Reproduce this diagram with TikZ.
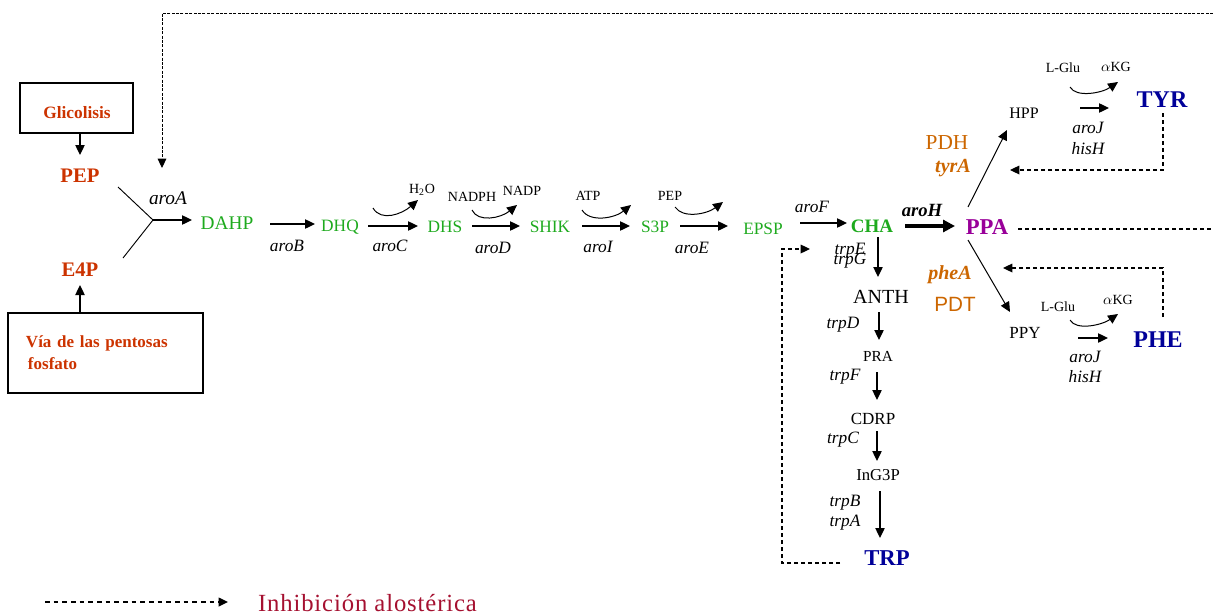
\documentclass[tikz,border=0pt]{standalone}
\usepackage{fontspec}
\setmainfont{Liberation Serif}
\setsansfont{Liberation Sans}
\usetikzlibrary{arrows.meta}
\definecolor{srcred}{RGB}{204,51,0}
\definecolor{metgreen}{RGB}{30,170,30}
\definecolor{ppapurple}{RGB}{153,0,153}
\definecolor{enzorange}{RGB}{204,102,0}
\definecolor{aablue}{RGB}{0,0,153}
\definecolor{legred}{RGB}{165,16,48}
\newcommand\fsz[1]{\fontsize{#1}{#1}\selectfont}
\begin{document}
\begin{tikzpicture}[x=0.75pt,y=-0.75pt,
  lbl/.style={inner sep=0pt, outer sep=0pt},
  metab/.style={lbl, text=metgreen, font=\fsz{13pt}},
  enz/.style={lbl, font=\itshape\fsz{13pt}},
  cofac/.style={lbl, font=\fsz{10.5pt}},
  inter/.style={lbl, font=\fsz{12.75pt}},
  srcmet/.style={lbl, text=srcred, font=\bfseries\fsz{15.5pt}},
  aa/.style={lbl, text=aablue, font=\bfseries\fsz{18pt}},
  orng/.style={lbl, text=enzorange},
  srcbox/.style={draw, line width=0.8pt},
  rxn/.style={-{Triangle[length=7.5pt,width=7pt]}, line width=0.95pt},
  cofarr/.style={-{Triangle[length=7.5pt,width=7pt]}, line width=0.75pt},
  slimline/.style={line width=0.7pt},
  inhib/.style={-{Triangle[length=7pt,width=6.5pt]}, line width=0.9pt, dash pattern=on 3pt off 2.25pt},
  inhibfine/.style={inhib, dash pattern=on 2.2pt off 1.1pt, line width=0.7pt}
]
\useasboundingbox (0,0) rectangle (1213,614);

% ---- sources
\node[srcbox, minimum width=84.75pt, minimum height=37.5pt] (glyc) at (76.5,108) {};
\node[lbl, text=srcred, font=\bfseries\fsz{13pt}] (glycT) at (77,113) {Glicolisis};
\node[srcmet] (PEP) at (80,176) {PEP};
\node[srcmet] (E4P) at (80,270) {E4P};
\node[srcbox, text=srcred, text width=119.25pt, inner xsep=13.5pt, inner ysep=0pt, minimum height=60pt, align=left, font=\bfseries\fontsize{12.75pt}{16.5pt}\selectfont] (ppp) at (105.5,353) {Vía de las pentosas\\\hspace*{1.5pt}fosfato};
\draw[rxn] ([shift={(3.5,0)}]glyc.south) -- ([shift={(0,-21)}]PEP.center);
\draw[rxn] ([shift={(-25.5,0)}]ppp.north) -- ([shift={(0,15)}]E4P.center);

\coordinate (J) at (153,220);
\draw[slimline] ([shift={(38,11)}]PEP.center) -- (J) -- ([shift={(43,-12)}]E4P.center);
\node[metab, font=\fsz{14.5pt}] (DAHP) at (227,223) {DAHP};
\draw[rxn] (J) -- ([shift={(-35,-3)}]DAHP.center);
\node[enz, font=\itshape\fsz{14.5pt}] (aroA) at (168,198) {aroA};

\coordinate (topR) at (1213,13);
\draw[inhibfine] (topR) -| ([shift={(-6,-30)}]aroA.center);

% ---- main chain
\node[metab] (DHQ) at (340,227) {DHQ};
\node[metab] (DHS) at (445,227) {DHS};
\node[metab] (SHIK) at (550,227) {SHIK};
\node[metab] (S3P) at (655,227) {S3P};
\node[metab] (EPSP) at (763,229) {EPSP};
\node[lbl, text=metgreen, font=\bfseries\fsz{14.25pt}] (CHA) at (872,226) {CHA};
\node[lbl, text=ppapurple, font=\bfseries\fsz{17pt}] (PPA) at (987,227) {PPA};

\draw[rxn] ([shift={(43,1)}]DAHP.center) -- ([shift={(-25,-3)}]DHQ.center);
\draw[rxn] ([shift={(28,-1)}]DHQ.center) -- ([shift={(-27,-1)}]DHS.center);
\draw[rxn] ([shift={(27,-1)}]DHS.center) -- ([shift={(-30,-1)}]SHIK.center);
\draw[rxn] ([shift={(32,-1)}]SHIK.center) -- ([shift={(-25,-1)}]S3P.center);
\draw[rxn] ([shift={(25,-1)}]S3P.center) -- ([shift={(-35,-3)}]EPSP.center);
\draw[rxn] ([shift={(37,-6)}]EPSP.center) -- ([shift={(-25,-3)}]CHA.center);
\draw[-{Triangle[length=9pt,width=9pt]}, line width=2.6pt] ([shift={(33,0)}]CHA.center) -- ([shift={(-32,-1)}]PPA.center);

\node[enz] (aroB) at (287,246) {aroB};
\node[enz] (aroC) at (390,246) {aroC};
\node[enz] (aroD) at (493,248) {aroD};
\node[enz] (aroI) at (598,247) {aroI};
\node[enz] (aroE) at (692,248) {aroE};
\node[enz] (aroF) at (812,207) {aroF};
\node[lbl, font=\bfseries\itshape\fsz{14pt}] (aroH) at (922,210) {aroH};

% ---- cofactors
\node[cofac] (H2O) at (422,190) {H\textsubscript{2}O};
\draw[cofarr] ([shift={(33,-19)}]DHQ.center) .. controls +(8,14) and +(-16,14) .. ([shift={(-4,10)}]H2O.center);
\node[cofac] (NADPH) at (472,197) {NADPH};
\node[cofac] (NADP) at (522,191) {NADP};
\draw[cofarr] ([shift={(0,13)}]NADPH.center) .. controls +(6,13) and +(-16,13) .. ([shift={(-5,14)}]NADP.center);
\node[cofac] (ATP) at (588,196) {ATP};
\draw[cofarr] ([shift={(-6,14)}]ATP.center) .. controls +(8,13) and +(-16,13) .. ([shift={(-24,-22)}]S3P.center);
\node[cofac] (PEPb) at (670,196) {PEP};
\draw[cofarr] ([shift={(5,11)}]PEPb.center) .. controls +(8,12) and +(-16,12) .. ([shift={(-40,-27)}]EPSP.center);

% ---- PPA branches
\node[inter, font=\fsz{12pt}] (HPP) at (1024,113) {HPP};
\node[inter] (PPY) at (1025,333) {PPY};
\draw[cofarr] ([shift={(-19,-20)}]PPA.center) -- ([shift={(-17,17)}]HPP.center);
\draw[cofarr] ([shift={(-19,13)}]PPA.center) -- ([shift={(-15,-21)}]PPY.center);
\node[orng, font=\fsz{16pt}] (PDH) at (947,143) {PDH};
\node[orng, font=\bfseries\itshape\fsz{15pt}] (tyrA) at (953,168) {tyrA};
\node[orng, font=\bfseries\itshape\fsz{15pt}] (pheA) at (950,275) {pheA};
\node[orng, font=\sffamily\fsz{15.5pt}] (PDT) at (955,304) {PDT};

% TYR
\node[aa] (TYR) at (1162,100) {TYR};
\node[cofac] (Glu1) at (1063,68) {L-Glu};
\node[cofac] (aKG1) at (1116,67) {$\alpha$KG};
\draw[cofarr] ([shift={(7,19)}]Glu1.center) .. controls +(6,11) and +(-16,11) .. ([shift={(2,15)}]aKG1.center);
\draw[rxn] ([shift={(56,-5)}]HPP.center) -- ([shift={(-53,8)}]TYR.center);
\node[enz] (aroJa) at (1088,128) {aroJ};
\node[enz] (hisHa) at (1088,149) {hisH};
\draw[inhib] ([shift={(1,13)}]TYR.center) |- ([shift={(23,-57)}]PPA.center);

% PHE
\node[aa] (PHE) at (1158,340) {PHE};
\node[cofac] (Glu2) at (1058,307) {L-Glu};
\node[cofac] (aKG2) at (1118,300) {$\alpha$KG};
\draw[cofarr] ([shift={(12,13)}]Glu2.center) .. controls +(6,11) and +(-16,11) .. ([shift={(0,14)}]aKG2.center);
\draw[rxn] ([shift={(53,5)}]PPY.center) -- ([shift={(-50,-2)}]PHE.center);
\node[enz] (aroJb) at (1085,357) {aroJ};
\node[enz] (hisHb) at (1085,377) {hisH};
\draw[inhib] ([shift={(5,-23)}]PHE.center) |- ([shift={(16,41)}]PPA.center);

\coordinate (ppaR) at (1213,229);
\draw[inhib, -] ([shift={(31,2)}]PPA.center) -- (ppaR);

% ---- TRP branch
\node[inter, font=\fsz{15pt}] (ANTH) at (881,297) {ANTH};
\node[inter, font=\fsz{11.5pt}] (PRA) at (878,356) {PRA};
\node[inter] (CDRP) at (873,419) {CDRP};
\node[inter, font=\fsz{12.5pt}] (InGP) at (878,475) {InG3P};
\node[aa, font=\bfseries\fsz{17pt}] (TRP) at (887,558) {TRP};
\draw[rxn] ([shift={(6,11)}]CHA.center) -- ([shift={(-3,-20)}]ANTH.center);
\draw[rxn] ([shift={(-2,15)}]ANTH.center) -- ([shift={(1,-16)}]PRA.center);
\draw[rxn] ([shift={(-1,16)}]PRA.center) -- ([shift={(4,-19)}]CDRP.center);
\draw[rxn] ([shift={(4,12)}]CDRP.center) -- ([shift={(-1,-14)}]InGP.center);
\draw[rxn] ([shift={(2,16)}]InGP.center) -- ([shift={(-7,-20)}]TRP.center);
\node[enz] (trpE) at (850,251) {trpE};
\node[enz] (trpG) at (850,261) {trpG};
\node[enz] (trpD) at (843,325) {trpD};
\node[enz] (trpF) at (845,377) {trpF};
\node[enz] (trpC) at (843,440) {trpC};
\node[enz] (trpB) at (845,503) {trpB};
\node[enz] (trpA) at (845,523) {trpA};
\draw[inhib] ([shift={(-47,5)}]TRP.center) -- ++(-58,0) |- ([shift={(-62,23)}]CHA.center);

% ---- legend
\node[lbl, anchor=base west, text=legred, font=\fsz{18.5pt}\addfontfeature{LetterSpace=3.6}] (leg) at (258,611) {Inhibición alostérica};
\coordinate (legS) at (45,602);
\draw[inhib, dash pattern=on 3.5pt off 3pt, line width=1.1pt] (legS) -- ([shift={(-30,-9)}]leg.base west);
\end{tikzpicture}
\end{document}
